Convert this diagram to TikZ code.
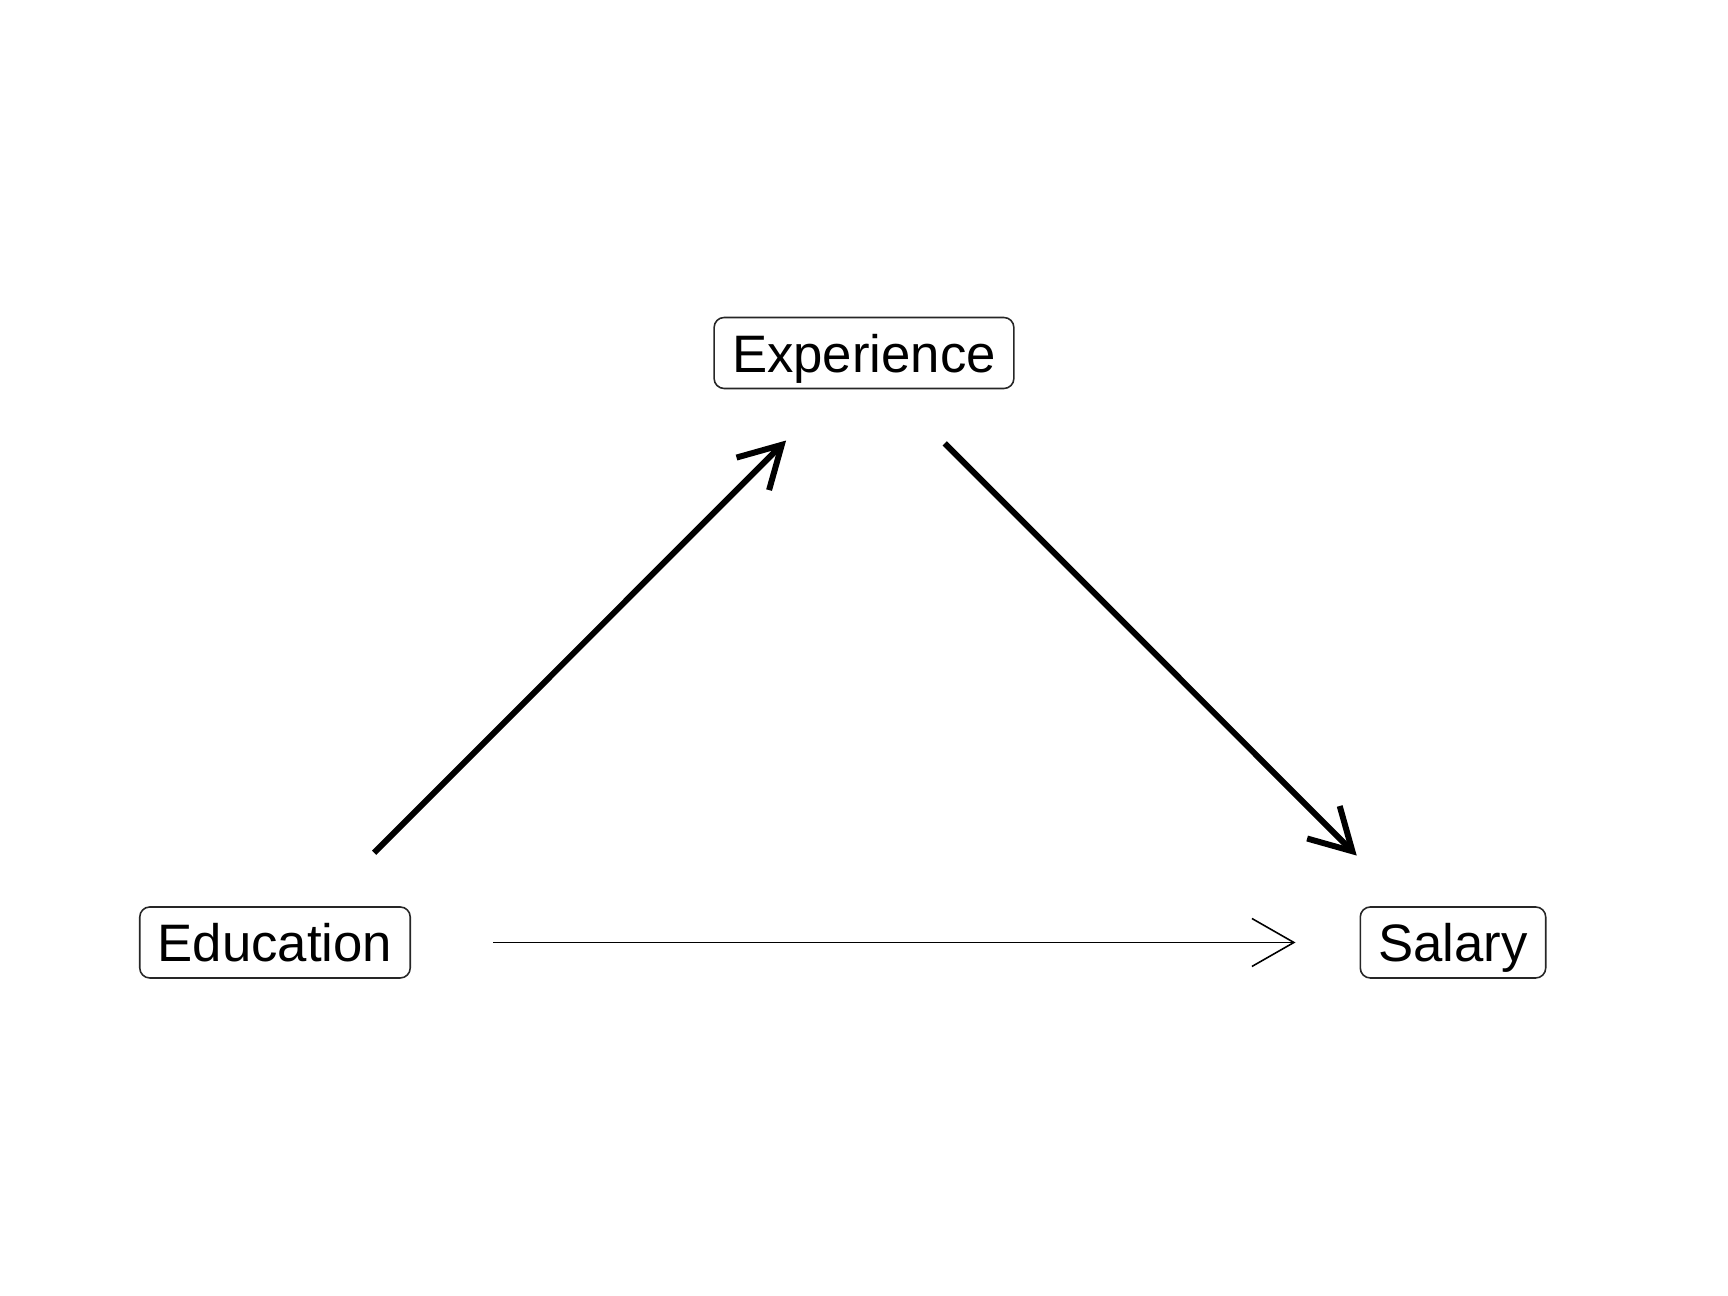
\documentclass[tikz,border=0pt]{standalone}
\usepackage{fontspec}
\setmainfont{Liberation Sans}
\usepackage{tikz}
\usetikzlibrary{arrows.meta}

\begin{document}
\begin{tikzpicture}[>={Straight Barb[length=0.41cm,width=0.46cm]},auto,node distance=11.78cm,
    var/.style={draw=black!85,line width=0.45pt,rounded corners=0.1cm,
      font=\fontsize{15pt}{18pt}\selectfont,inner xsep=0.18cm,inner ysep=0.16cm,
      text height=0.39cm,text depth=0cm},
    strong/.style={line width=1.7pt,transform canvas={yshift=-0.095cm}},
    weak/.style={line width=0.45pt,-{Straight Barb[length=0.42cm,width=0.48cm]}}]
  \useasboundingbox (0,0) rectangle (17.28,12.96);

  \node[var] (edu) at (2.75,3.535) {Education};
  \node[var] (sal) [right of=edu] {Salary};
  \node[var] (exp) at (8.64,9.43) {Experience};

  \path[->]
    (edu)
      edge [strong,shorten <=0.89cm,shorten >=0.59cm] (exp)
      edge [weak,shorten <=0.82cm,shorten >=0.64cm] (sal)
    (exp)
      edge [strong,shorten <=0.63cm,shorten >=0.85cm] (sal)
  ;
\end{tikzpicture}
\end{document}
